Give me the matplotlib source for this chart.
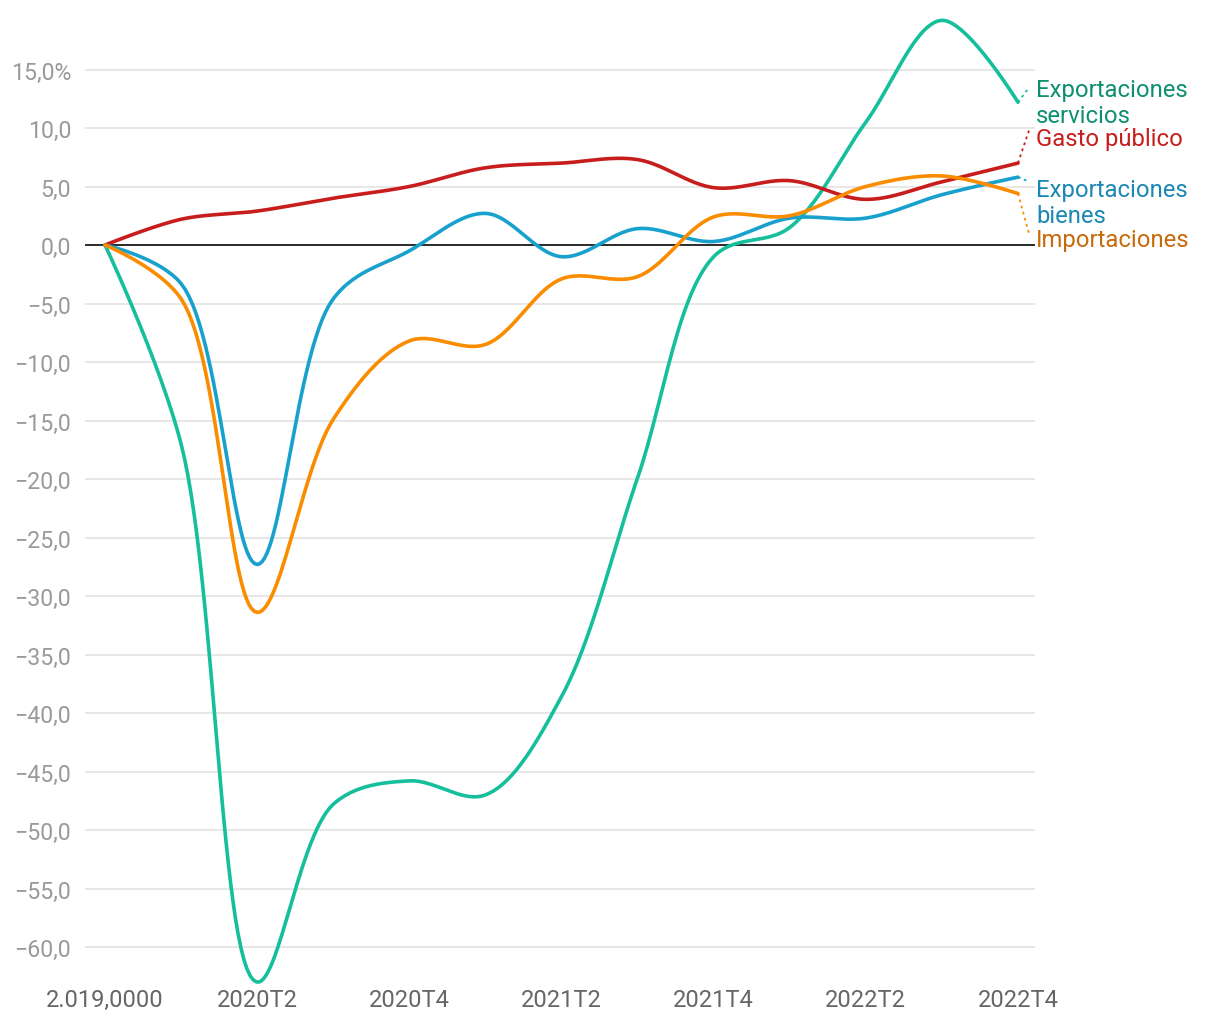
import numpy as np
import matplotlib
matplotlib.use('Agg')
import matplotlib.pyplot as plt

plt.rcParams['font.family'] = ['Roboto', 'DejaVu Sans']

# Quarters from 2019T4 to 2022T4
quarters = ['2019T4', '2020T1', '2020T2', '2020T3', '2020T4', '2021T1', '2021T2',
            '2021T3', '2021T4', '2022T1', '2022T2', '2022T3', '2022T4']
tick_labels = ['2.019,0000', '2020T2', '2020T4', '2021T2', '2021T4', '2022T2', '2022T4']

exp_servicios = [0, -17.0, -63.0, -47.8, -45.8, -47.0, -38.6, -19.9, -1.0, 1.5, 10.5, 19.2, 12.2]
gasto_publico = [0, 2.2, 2.9, 4.0, 5.0, 6.6, 7.0, 7.3, 4.9, 5.5, 3.9, 5.4, 7.0]
exp_bienes = [0, -3.3, -27.3, -4.6, -0.5, 2.7, -1.0, 1.4, 0.3, 2.3, 2.3, 4.3, 5.8]
importaciones = [0, -4.6, -31.4, -14.9, -8.2, -8.5, -2.9, -2.7, 2.4, 2.5, 5.0, 5.9, 4.4]

PX_X, PX_Y = 76.08, 11.7  # pixels per quarter / per point, for the curve shape


def catmull_rom(y, alpha=0.5, n=30):
    # centripetal catmull-rom, as d3.curveCatmullRom, computed in pixel space
    P = np.column_stack([np.arange(len(y)) * PX_X, np.asarray(y, float) * PX_Y])
    out = [P[0]]
    for i in range(len(P) - 1):
        p1, p2 = P[i], P[i + 1]
        p0 = P[i - 1] if i > 0 else None
        p3 = P[i + 2] if i + 2 < len(P) else None
        l12 = np.linalg.norm(p2 - p1)
        c1, c2 = p1.copy(), p2.copy()
        if p0 is not None:
            l01 = np.linalg.norm(p1 - p0)
            a = 2 * l01 + 3 * l01**alpha * l12**alpha + l12
            m = 3 * l01**alpha * (l01**alpha + l12**alpha)
            c1 = (p1 * a - p0 * l12 + p2 * l01) / m
        if p3 is not None:
            l23 = np.linalg.norm(p3 - p2)
            b = 2 * l23 + 3 * l23**alpha * l12**alpha + l12
            m = 3 * l23**alpha * (l23**alpha + l12**alpha)
            c2 = (p2 * b + p1 * l23 - p3 * l12) / m
        t = np.linspace(0, 1, n)[1:, None]
        seg = ((1 - t)**3 * p1 + 3 * (1 - t)**2 * t * c1
               + 3 * (1 - t) * t**2 * c2 + t**3 * p2)
        out.extend(seg)
    out = np.array(out)
    return out[:, 0] / PX_X, out[:, 1] / PX_Y


fig = plt.figure(figsize=(12.2, 10.2), dpi=100)
ax = fig.add_axes([85 / 1220, 1 - 985 / 1020, 950 / 1220, 975 / 1020])
ax.set_xlim(-20 / PX_X, 12 + 17 / PX_X)
ax.set_ylim(-(985 - 246) / PX_Y, (246 - 10) / PX_Y)

yticks = np.arange(15, -61, -5)
for v in yticks:
    if v != 0:
        ax.axhline(v, color='#e3e3e3', lw=1.2, zorder=0)
ax.axhline(0, color='#1a1a1a', lw=1.3, zorder=1)

series = [
    (exp_servicios, '#15bf9c', '#0e9070', 'Exportaciones\nservicios', 12.18, 13.5),
    (gasto_publico, '#c71e1d', '#c71e1d', 'Gasto público', 9.06, 9.9),
    (exp_bienes, '#18a1cd', '#1a87b5', 'Exportaciones\nbienes', 3.63, 5.4),
    (importaciones, '#fa8c00', '#c86a0a', 'Importaciones', 0.51, 0.85),
]
for vals, col, lab_col, name, ly, cy in series:
    xs, ys = catmull_rom(vals)
    ax.plot(xs, ys, color=col, lw=2.6, solid_capstyle='round', zorder=3)
    ax.plot([12, 12.15], [vals[-1], cy], color=col, lw=1.3, ls=(0, (1.5, 2)), clip_on=False)
    ax.text(12.24, ly, name, color=lab_col, fontsize=17.2, va='center', ha='left',
            linespacing=1.13, clip_on=False)

ax.set_yticks(yticks)
ylabels = []
for v in yticks:
    s = f'{abs(v):.1f}'.replace('.', ',')
    if v < 0:
        s = '\u2212' + s
    if v == 15:
        s += '%'
    ylabels.append(s)
ax.set_yticklabels(ylabels, color='#9a9a9a', fontsize=16.7)
ax.set_xticks(np.arange(0, 13, 2))
ax.set_xticklabels(tick_labels, color='#666666', fontsize=17)
ax.tick_params(axis='both', length=0)
ax.tick_params(axis='y', pad=10)
ax.tick_params(axis='x', pad=3)
for sp in ax.spines.values():
    sp.set_visible(False)

fig.savefig('out.png', dpi=100)
